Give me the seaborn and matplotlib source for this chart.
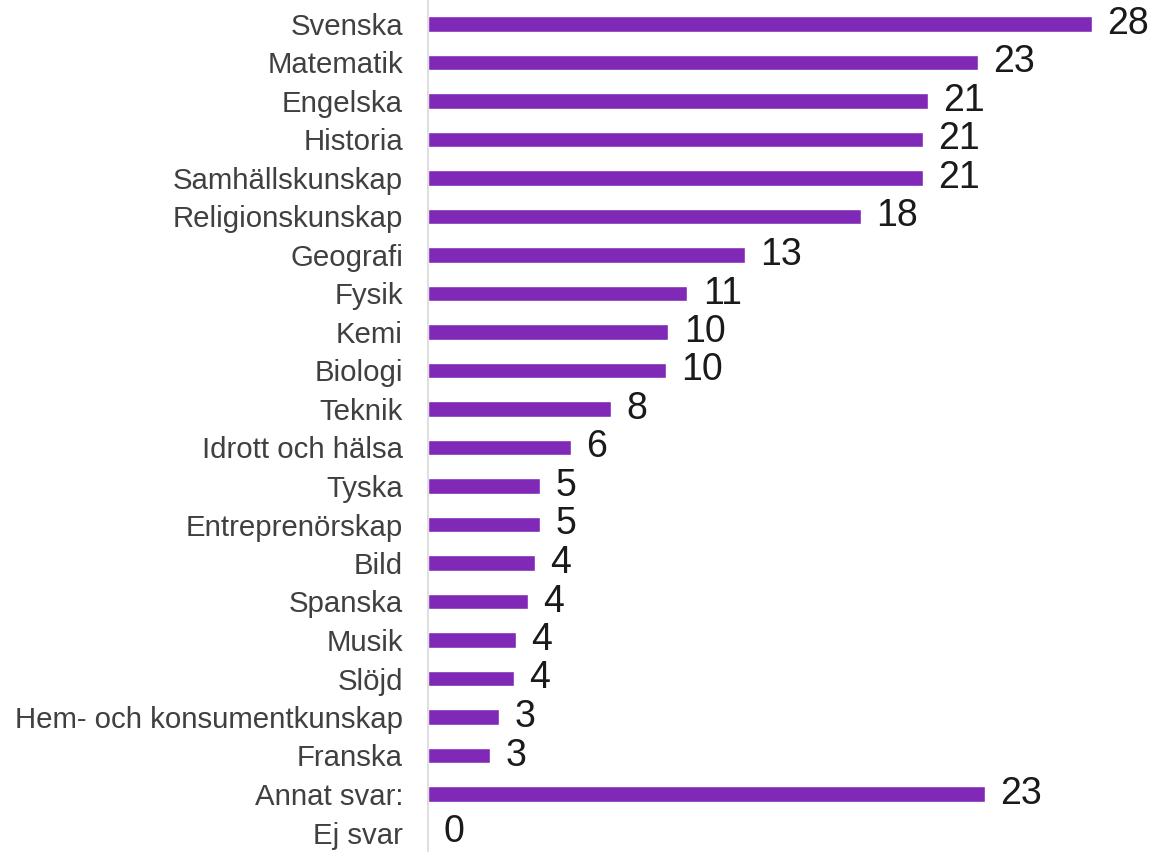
import numpy as np
import pandas as pd
import matplotlib
matplotlib.use("Agg")
import matplotlib.pyplot as plt
import seaborn as sns

# ----- DONNÉES -----
amnen = [
    "Svenska", "Matematik", "Engelska", "Historia", "Samhällskunskap",
    "Religionskunskap", "Geografi", "Fysik", "Kemi", "Biologi", "Teknik",
    "Idrott och hälsa", "Tyska", "Entreprenörskap", "Bild", "Spanska",
    "Musik", "Slöjd", "Hem- och konsumentkunskap", "Franska",
    "Annat svar:", "Ej svar",
]
andel = [
    27.9, 23.1, 21.0, 20.8, 20.8, 18.2, 13.3, 10.9, 10.1, 10.0, 7.7,
    6.0, 4.7, 4.7, 4.5, 4.2, 3.7, 3.6, 3.0, 2.6, 23.4, 0.0,
]

df = pd.DataFrame({"amne": amnen, "andel": andel})

# ----- STYLE -----
sns.set_theme(style="white")
plt.rcParams["font.family"] = ["Liberation Sans", "DejaVu Sans"]

fig = plt.figure(figsize=(11.56, 8.52), dpi=100)
ax = fig.add_axes([428 / 1156, 0, 728 / 1156, 1])

sns.barplot(
    data=df,
    x="andel",
    y="amne",
    orient="h",
    color="#8129B7",
    saturation=1,
    width=0.41,
    ax=ax,
)

# étiquettes de valeur (arrondies)
ax.bar_label(
    ax.containers[0],
    labels=[f"{v:.0f}" for v in andel],
    padding=11,
    fontsize=27,
    color="#1a1a1a",
)

# échelle : ~38.5 px par ligne, première ligne à ~24 px du haut
pas = 38.5
ax.set_xlim(0, 728 / 23.8)
ax.set_ylim((852 - 24) / pas, -24 / pas)
ax.set_xlabel("")
ax.set_ylabel("")
ax.set_xticks([])
ax.tick_params(axis="y", length=0, pad=18, labelsize=21.2, labelcolor="#404040")

for side in ["top", "right", "bottom"]:
    ax.spines[side].set_visible(False)
ax.spines["left"].set_color("#d9d9d9")
ax.spines["left"].set_linewidth(1.2)

fig.savefig("out.png", dpi=100)
